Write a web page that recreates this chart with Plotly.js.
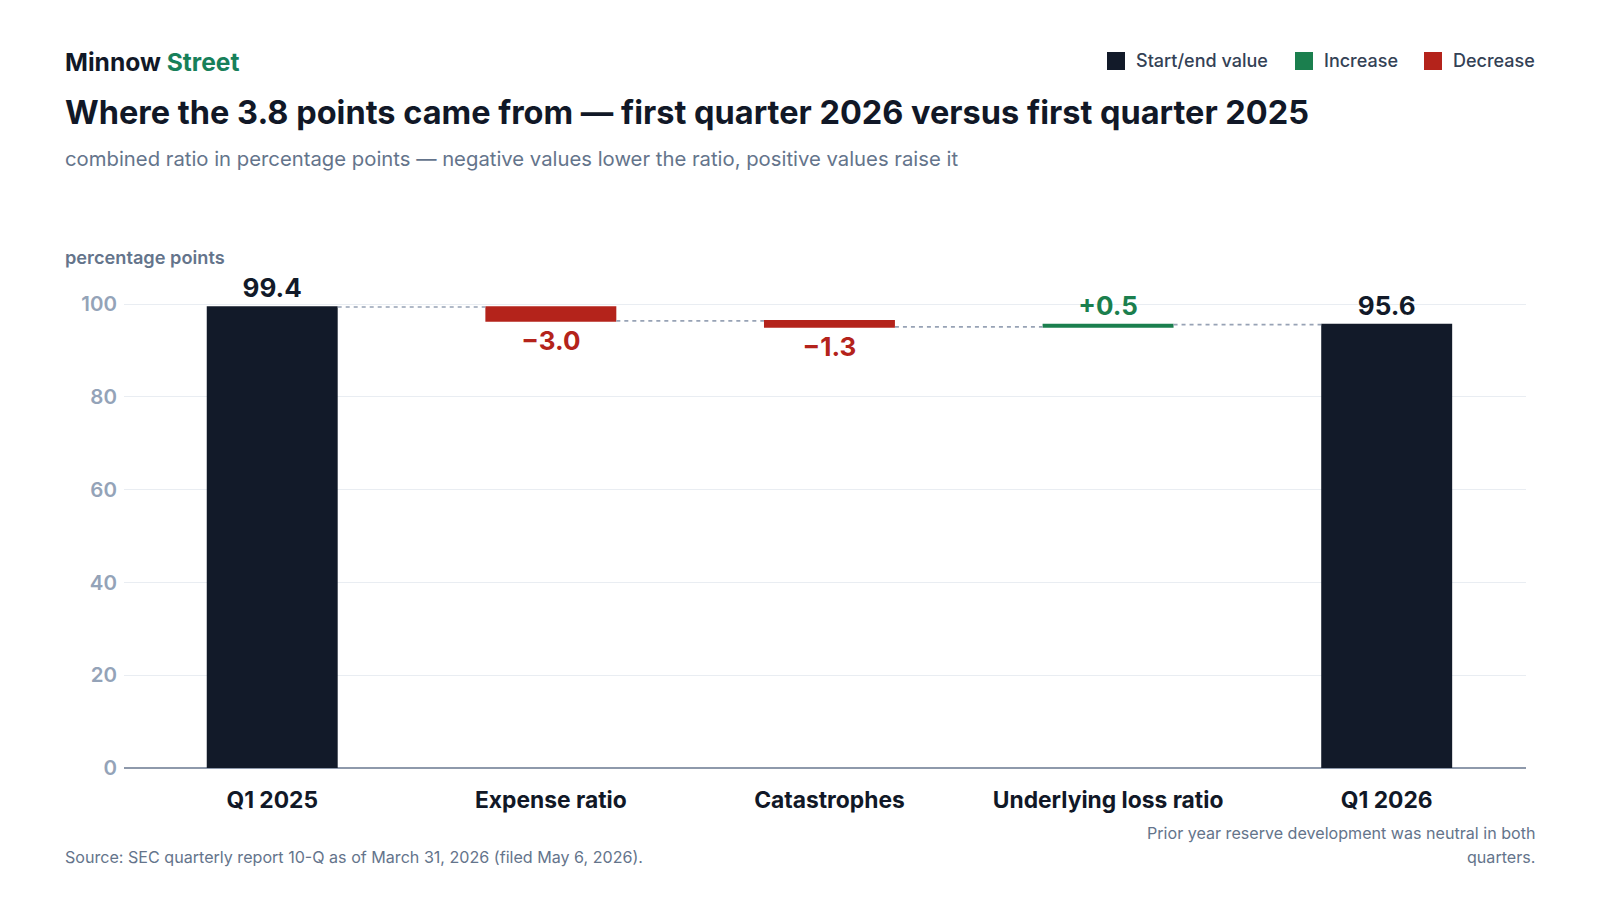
<!DOCTYPE html>
<html>
<head>
<meta charset="utf-8">
<script src="https://cdn.plot.ly/plotly-3.0.1.min.js"></script>
<style>
  html, body { margin: 0; padding: 0; background: #fff; }
  #chart { width: 1600px; height: 900px; }
</style>
</head>
<body>
<div id="chart"></div>
<script>
// --- data ---
const categories = ['Q1 2025', 'Expense ratio', 'Catastrophes', 'Underlying loss ratio', 'Q1 2026'];
const changes = [99.4, -3.0, -1.3, 0.5, 95.6];
const measures = ['absolute', 'relative', 'relative', 'relative', 'total'];
const yTicks = [0, 20, 40, 60, 80, 100];

const legendItems = ['Start/end value', 'Increase', 'Decrease'];

// colours
const COL_TOTAL = '#121a29';
const COL_UP = '#1b7f4e';
const COL_DOWN = '#b4231b';
const FONT = 'Inter, "Noto Sans", sans-serif';

// value labels: totals plain, deltas signed with a real minus sign
function fmtLabel(v, m) {
    if (m === 'absolute' || m === 'total') return v.toFixed(1);
    return (v < 0 ? '\u2212' : '+') + Math.abs(v).toFixed(1);
}
const labels = changes.map((v, i) => fmtLabel(v, measures[i]));
const labelColors = changes.map((v, i) =>
    (measures[i] === 'relative') ? (v < 0 ? COL_DOWN : COL_UP) : COL_TOTAL);

// page geometry (pixels) -> paper coords for the header / footer bits
const W = 1600, H = 900;
const M = { l: 124, r: 74, t: 281, b: 132 };
const PW = W - M.l - M.r, PH = H - M.t - M.b;
const px = x => (x - M.l) / PW;
const py = y => (H - M.b - y) / PH;

function note(text, x, y, opts = {}) {
    return Object.assign({
        xref: 'paper', yref: 'paper', x: px(x), y: py(y),
        xanchor: 'left', yanchor: 'middle', showarrow: false,
        text: text, font: { family: FONT, size: 18, color: '#64748b' }
    }, opts);
}

const annotations = [
    note('<span style="color:#111827">Minnow</span> <span style="color:#17805a">Street</span>', 63, 62,
        { font: { family: FONT, size: 24.6, weight: 700 } }),
    note('Where the 3.8 points came from \u2014 first quarter 2026 versus first quarter 2025', 63, 112,
        { font: { family: FONT, size: 32.5, weight: 700, color: '#111827' } }),
    note('combined ratio in percentage points \u2014 negative values lower the ratio, positive values raise it', 63, 159,
        { font: { family: FONT, size: 20.3, color: '#64748b' } }),
    note('percentage points', 63, 257,
        { font: { family: FONT, size: 18.2, weight: 600, color: '#64748b' } }),
    note('Source: SEC quarterly report 10-Q as of March 31, 2026 (filed May 6, 2026).', 63, 857,
        { font: { family: FONT, size: 16.1, color: '#64748b' } }),
    note('Prior year reserve development was neutral in both', 1537, 833,
        { xanchor: 'right', font: { family: FONT, size: 16.1, color: '#64748b' } }),
    note('quarters.', 1537, 857,
        { xanchor: 'right', font: { family: FONT, size: 16.1, color: '#64748b' } })
];

// legend: swatch + label
const legendColors = [COL_TOTAL, COL_UP, COL_DOWN];
const legendX = [1107, 1295, 1424];
const shapes = [];
legendItems.forEach((name, i) => {
    shapes.push({
        type: 'rect', xref: 'paper', yref: 'paper',
        x0: px(legendX[i]), x1: px(legendX[i] + 18),
        y0: py(70), y1: py(52),
        fillcolor: legendColors[i], line: { width: 0 }
    });
    annotations.push(note(name, legendX[i] + 27, 61,
        { font: { family: FONT, size: 18, weight: 500, color: '#334155' } }));
});

const trace = {
    type: 'waterfall',
    x: categories,
    y: changes,
    measure: measures,
    text: labels,
    textposition: 'outside',
    cliponaxis: false,
    textfont: { family: FONT, size: 26, weight: 700, color: labelColors },
    outsidetextfont: { family: FONT, size: 26, weight: 700, color: labelColors },
    width: 0.47,
    increasing: { marker: { color: COL_UP } },
    decreasing: { marker: { color: COL_DOWN } },
    totals: { marker: { color: COL_TOTAL } },
    connector: { mode: 'between', line: { color: '#97a2b5', width: 1.6, dash: '4px,4px' } },
    hoverinfo: 'none',
    showlegend: false
};

const layout = {
    width: W, height: H,
    margin: M,
    paper_bgcolor: '#ffffff',
    plot_bgcolor: '#ffffff',
    font: { family: FONT },
    showlegend: false,
    xaxis: {
        type: 'category',
        range: [-0.532, 4.5],
        showgrid: false, zeroline: false, showline: false,
        ticks: '',
        ticklabelstandoff: 16,
        tickfont: { family: FONT, size: 22.8, weight: 700, color: '#111827' },
        fixedrange: true
    },
    yaxis: {
        range: [0, 105],
        tickvals: yTicks,
        ticktext: yTicks.map(String),
        showgrid: true, gridcolor: '#e9edf2', gridwidth: 1,
        zeroline: true, zerolinecolor: '#8e99ab', zerolinewidth: 2,
        showline: false, ticks: '',
        ticklabelstandoff: 6,
        tickfont: { family: FONT, size: 20.5, weight: 600, color: '#94a3b8' },
        fixedrange: true
    },
    annotations: annotations,
    shapes: shapes
};

Plotly.newPlot('chart', [trace], layout, { staticPlot: true, displayModeBar: false });
</script>
</body>
</html>
